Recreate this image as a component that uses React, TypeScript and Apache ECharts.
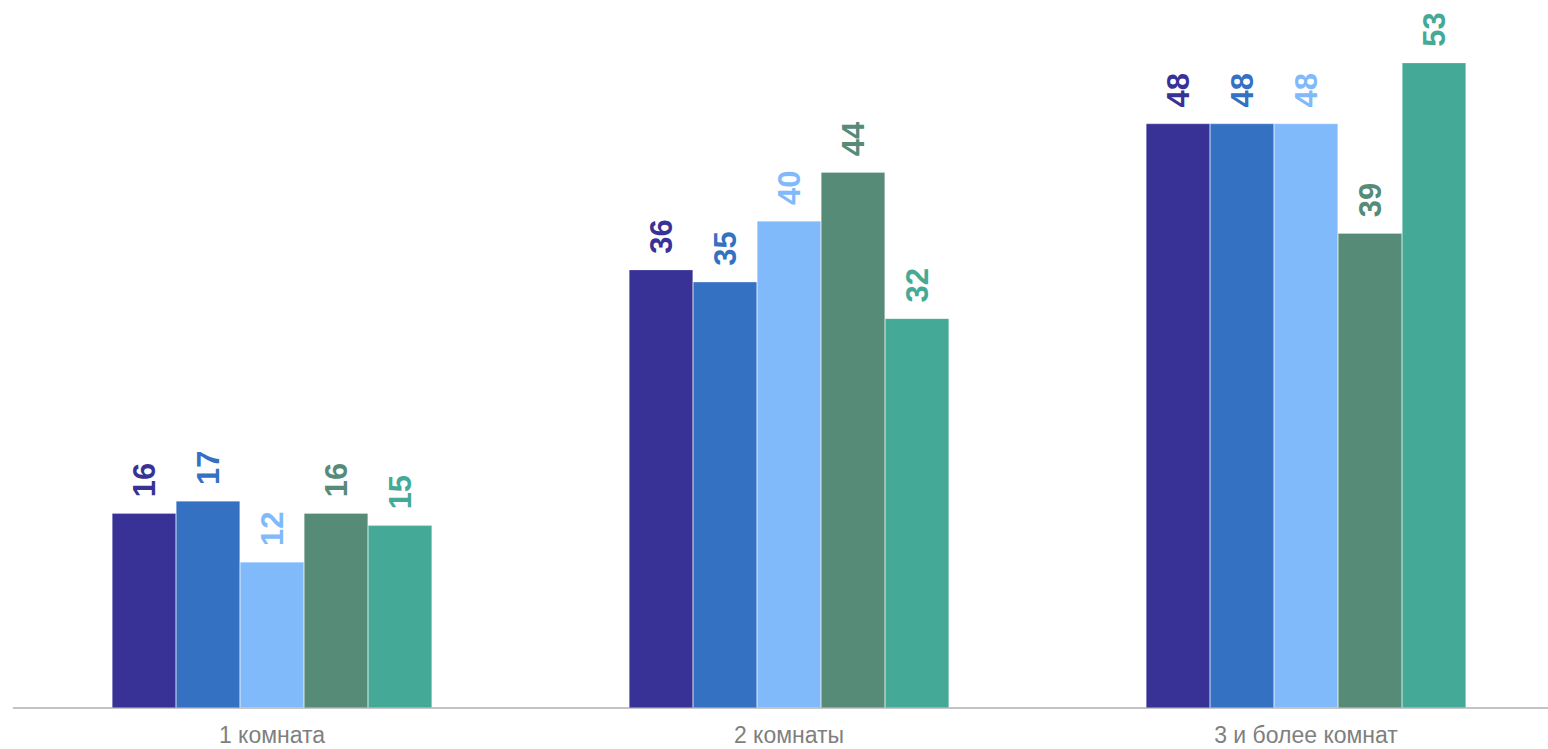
import React, { useEffect, useRef } from "react";
import * as echarts from "echarts";

const categories = ["1 комната", "2 комнаты", "3 и более комнат"];
const series1 = [16, 36, 48];
const series2 = [17, 35, 48];
const series3 = [12, 40, 48];
const series4 = [16, 44, 39];
const series5 = [15, 32, 53];
const seriesData = [series1, series2, series3, series4, series5];
const colors = ["#383296", "#3571c2", "#80bafb", "#568b78", "#45a997"];

export default function App() {
  const ref = useRef<HTMLDivElement>(null);
  useEffect(() => {
    if (!ref.current) return;
    const chart = echarts.init(ref.current, undefined, { renderer: "svg" });
    chart.setOption({
      animation: false,
      grid: { left: 13.5, right: 1.5, top: 14, bottom: 41, containLabel: false },
      xAxis: {
        type: "category",
        data: categories,
        axisLine: { show: true, lineStyle: { color: "#c4c4c4", width: 2 } },
        axisTick: { show: false },
        axisLabel: {
          color: "#7f7f7f",
          fontSize: 23,
          fontFamily: "Liberation Sans, Arial, sans-serif",
          margin: 15,
        },
      },
      yAxis: {
        type: "value",
        min: 0,
        max: 57,
        show: false,
        splitLine: { show: false },
      },
      series: seriesData.map((d, i) => ({
        type: "bar",
        data: d,
        barWidth: 64,
        barGap: "0%",
        itemStyle: { color: colors[i], borderColor: "rgba(255,255,255,0.5)", borderWidth: 0.5 },
        label: {
          show: true,
          position: "top",
          rotate: 90,
          align: "left",
          verticalAlign: "middle",
          distance: 16,
          color: colors[i],
          fontSize: 31,
          fontWeight: "bold",
          fontFamily: "Liberation Sans, Arial, sans-serif",
        },
      })),
    });
    return () => chart.dispose();
  }, []);
  return (
    <div style={{ position: "fixed", left: 0, top: 0, width: 1548, height: 749, overflow: "hidden", background: "#fff" }}>
      <div ref={ref} style={{ width: 1566, height: 749 }} />
    </div>
  );
}
